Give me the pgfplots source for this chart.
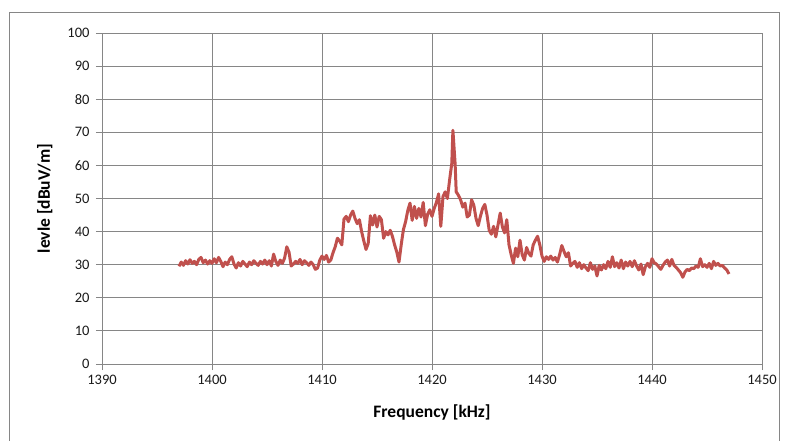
\documentclass[border=0pt]{standalone}
\usepackage{pgfplots}
\pgfplotsset{compat=1.18}
\usepackage{fontspec}
\setmainfont{Carlito}
\definecolor{gridc}{HTML}{868686}
\definecolor{redl}{HTML}{C0504D}
\begin{document}
\begin{tikzpicture}[x=1pt,y=1pt]
\useasboundingbox (0,0) rectangle (786,441);
\draw[gridc,line width=0.8pt] (9,-5) -- (9,429) -- (779,429) -- (779,-5);
\begin{axis}[
  at={(102pt,77pt)}, anchor=south west,
  scale only axis, width=660pt, height=331pt,
  xmin=1390, xmax=1450, ymin=0, ymax=100,
  xtick={1390,1400,...,1450}, ytick={0,10,...,100},
  grid=major, grid style={gridc, line width=0.8pt},
  axis line style={gridc, line width=0.8pt},
  tick style={gridc, line width=0.8pt},
  tick align=outside, xtick pos=left, ytick pos=left,
  major tick length=6pt,
  /pgf/number format/assume math mode=true,
  /pgf/number format/1000 sep={},
  tick label style={font=\fontsize{14.5}{16}\selectfont, text=black!90},
  xticklabel style={yshift=-2pt},
  yticklabel style={xshift=-3pt},
  xlabel={\bfseries Frequency [kHz]},
  ylabel={\bfseries levle [dBuV/m]},
  label style={font=\fontsize{17.5}{19}\selectfont, text=black},
  xlabel style={yshift=-13pt},
  ylabel style={yshift=8pt},
]
\addplot[redl, line width=3pt, line join=round] table {
1397.0 29.5
1397.2 30.8
1397.4 29.8
1397.6 31.2
1397.8 30.2
1398.0 31.5
1398.2 30.4
1398.4 31.0
1398.6 30.0
1398.8 31.6
1399.0 32.2
1399.2 30.6
1399.4 31.4
1399.6 30.2
1399.8 31.2
1400.0 30.4
1400.2 31.8
1400.4 30.6
1400.6 32.2
1400.8 31.0
1401.0 29.4
1401.2 30.8
1401.4 30.0
1401.6 31.6
1401.8 32.4
1402.0 30.2
1402.2 29.0
1402.4 30.6
1402.6 29.6
1402.8 31.0
1403.0 30.2
1403.2 29.4
1403.4 30.8
1403.6 30.0
1403.8 31.2
1404.0 30.4
1404.2 29.8
1404.4 31.0
1404.6 30.2
1404.8 31.4
1405.0 30.0
1405.2 31.2
1405.4 29.6
1405.6 33.2
1405.8 31.0
1406.0 29.8
1406.2 31.4
1406.4 30.4
1406.6 32.0
1406.8 35.4
1407.0 33.8
1407.2 29.6
1407.4 30.2
1407.6 31.0
1407.8 30.4
1408.0 31.6
1408.2 30.0
1408.4 31.2
1408.6 30.6
1408.8 29.8
1409.0 30.8
1409.2 30.0
1409.4 28.6
1409.6 29.0
1409.8 31.4
1410.0 32.6
1410.2 31.6
1410.4 32.8
1410.6 30.8
1410.8 31.4
1411.0 33.6
1411.2 35.4
1411.4 38.0
1411.6 37.2
1411.8 36.0
1412.0 43.8
1412.2 44.6
1412.4 43.0
1412.6 45.0
1412.8 46.2
1413.0 44.0
1413.2 42.4
1413.4 43.6
1413.6 40.0
1413.8 37.2
1414.0 34.6
1414.2 36.4
1414.4 44.8
1414.6 42.0
1414.8 45.0
1415.0 41.4
1415.2 44.6
1415.4 43.6
1415.6 38.0
1415.8 40.0
1416.0 39.0
1416.2 40.4
1416.4 38.6
1416.6 36.0
1416.8 33.8
1417.0 30.8
1417.2 36.0
1417.4 40.6
1417.6 43.0
1417.8 46.4
1418.0 48.6
1418.2 43.4
1418.4 47.6
1418.6 44.0
1418.8 47.0
1419.0 44.4
1419.2 48.8
1419.4 41.8
1419.6 45.2
1419.8 46.6
1420.0 44.6
1420.2 47.0
1420.4 48.8
1420.6 51.4
1420.8 41.6
1421.0 50.6
1421.2 52.0
1421.4 50.0
1421.6 55.6
1421.8 60.6
1421.9 70.6
1422.1 60.6
1422.2 52.0
1422.4 51.0
1422.6 49.6
1422.8 47.4
1423.0 48.6
1423.2 44.4
1423.4 45.0
1423.6 49.6
1423.8 48.0
1424.0 44.0
1424.2 41.8
1424.4 44.6
1424.6 47.0
1424.8 48.2
1425.0 45.0
1425.2 40.4
1425.4 39.2
1425.6 41.6
1425.8 38.4
1426.0 42.0
1426.2 45.6
1426.4 41.4
1426.6 39.6
1426.8 43.6
1427.0 36.0
1427.2 33.0
1427.4 30.4
1427.6 35.0
1427.8 32.4
1428.0 37.4
1428.2 33.0
1428.4 31.4
1428.6 35.2
1428.8 33.4
1429.0 32.6
1429.2 36.0
1429.4 37.4
1429.6 38.6
1429.8 36.0
1430.0 32.6
1430.2 31.0
1430.4 32.4
1430.6 31.6
1430.8 32.6
1431.0 31.4
1431.2 32.2
1431.4 30.8
1431.6 33.0
1431.8 35.8
1432.0 34.0
1432.2 32.4
1432.4 33.6
1432.6 29.6
1432.8 30.4
1433.0 31.0
1433.2 29.2
1433.4 30.6
1433.6 28.8
1433.8 30.0
1434.0 29.0
1434.2 28.2
1434.4 30.6
1434.6 28.6
1434.8 29.6
1435.0 26.6
1435.2 29.8
1435.4 28.4
1435.6 30.0
1435.8 28.8
1436.0 31.0
1436.2 29.2
1436.4 32.4
1436.6 29.4
1436.8 30.6
1437.0 29.0
1437.2 31.4
1437.4 28.8
1437.6 30.8
1437.8 29.6
1438.0 31.0
1438.2 29.4
1438.4 31.2
1438.6 29.6
1438.8 28.4
1439.0 30.2
1439.2 27.0
1439.4 29.4
1439.6 30.4
1439.8 29.2
1440.0 31.8
1440.2 30.6
1440.4 30.2
1440.6 29.4
1440.8 28.6
1441.0 29.8
1441.2 30.8
1441.4 31.4
1441.6 29.6
1441.8 31.6
1442.0 29.8
1442.2 29.2
1442.4 28.4
1442.6 27.6
1442.8 26.2
1443.0 27.8
1443.2 28.6
1443.4 28.2
1443.6 29.0
1443.8 28.8
1444.0 29.6
1444.2 29.2
1444.4 31.8
1444.6 29.4
1444.8 30.0
1445.0 29.2
1445.2 30.4
1445.4 28.8
1445.6 31.0
1445.8 29.8
1446.0 30.4
1446.2 29.6
1446.4 29.8
1446.6 29.0
1446.8 28.4
1447.0 27.2
};
\end{axis}
\end{tikzpicture}
\end{document}
